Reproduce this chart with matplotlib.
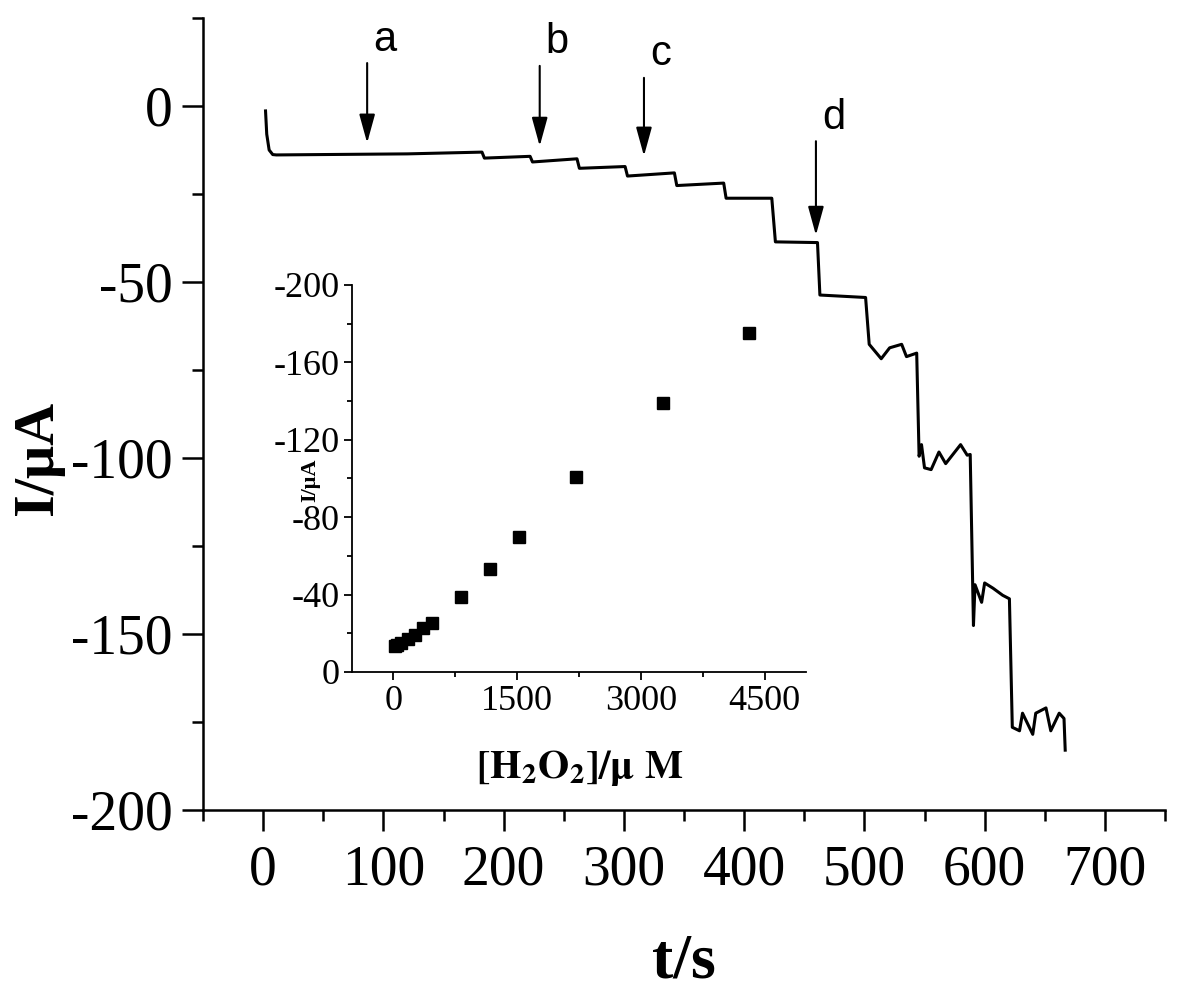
import matplotlib
matplotlib.use("Agg")
import matplotlib.pyplot as plt
from matplotlib.ticker import MultipleLocator, FormatStrFormatter

plt.rcParams['font.family'] = ['Liberation Serif', 'DejaVu Serif']
plt.rcParams['mathtext.fontset'] = 'stix'
plt.rcParams['axes.unicode_minus'] = False

# amperometric trace (time in s, current in uA)
t_s = [2, 3, 5, 8, 11, 120, 182, 184, 222, 224, 261, 263,
       301, 303, 342, 344, 383, 385, 423, 426, 461, 463, 501,
       504, 514, 521, 531, 535, 543.5, 545.5,
       547.5, 550, 555.5, 562, 567.6, 580, 585.5, 588,
       590.7, 592, 597.5, 600, 607, 615, 620.6,
       623, 629, 631.5, 640, 642.5, 651, 655, 662, 666, 667]
i_ua = [-1.4, -8, -12.5, -13.8, -13.9, -13.6, -13.1, -14.8, -14.3, -15.9,
        -15.0, -17.7, -17.2, -19.9, -19.0, -22.6, -21.9, -26.2, -26.2,
        -38.6, -38.8, -53.7, -54.4,
        -67.7, -71.8, -68.7, -67.7, -71.2, -70.2, -99.5,
        -96.2, -102.8, -103.3, -98.3, -101.6, -96.2, -99.2, -99.0,
        -147.6, -136.0, -141.0, -135.5, -137.0, -139.0, -140.0,
        -176.5, -177.5, -172.5, -178.5, -172.5, -171.0, -177.5, -172.5,
        -174.0, -183.0]

# calibration points for the inset
conc_um = [20, 40, 100, 180, 260, 360, 470, 820, 1170, 1520, 2220, 3270, 4310]
cal_ua = [-13.4, -14.0, -14.8, -16.9, -19.1, -22.6, -25.5, -38.9, -53.4,
          -69.9, -100.8, -138.9, -175.0]

# addition markers
mark_labels = ['a', 'b', 'c', 'd']
mark_t = [86.5, 230, 316.7, 459.7]
mark_tip = [-10.5, -11.4, -14.2, -36.7]
mark_tail = [12.2, 11.4, 8.0, -10.0]

fig = plt.figure(figsize=(11.83, 10), dpi=100)
ax = fig.add_axes([0.1716, 0.19, 0.8132, 0.792])
ax.plot(t_s, i_ua, color='black', lw=2.2)
ax.set_xlim(-50, 750)
ax.set_ylim(-200, 25)
ax.spines['top'].set_visible(False)
ax.spines['right'].set_visible(False)
for s in ['left', 'bottom']:
    ax.spines[s].set_linewidth(1.8)
ax.xaxis.set_major_locator(MultipleLocator(100))
ax.xaxis.set_minor_locator(MultipleLocator(50))
ax.yaxis.set_major_locator(MultipleLocator(50))
ax.yaxis.set_minor_locator(MultipleLocator(25))
ax.yaxis.set_major_formatter(FormatStrFormatter('%d'))
ax.tick_params(which='major', direction='out', length=15, width=1.8,
               labelsize=40, pad=7)
ax.tick_params(which='minor', direction='out', length=8, width=1.8)
ax.tick_params(axis='x', which='major', pad=10)

for lab, x, tip, tail in zip(mark_labels, mark_t, mark_tip, mark_tail):
    ax.annotate('', xy=(x, tip), xytext=(x, tail),
                arrowprops=dict(arrowstyle='-|>,head_length=0.8,head_width=0.22',
                                color='black', lw=1.5, mutation_scale=22,
                                shrinkA=0, shrinkB=0))
    ax.text(x + 5, tail + 1, lab, family='Liberation Sans', fontsize=30,
            ha='left', va='bottom')

fig.text(684 / 1183, 1 - 962 / 1000, 't/s', fontsize=46, fontweight='bold',
         ha='center', va='center')
fig.text(38 / 1183, 1 - 458 / 1000, 'I/μA', fontsize=42, fontweight='bold',
         ha='center', va='center', rotation=90)

ins = fig.add_axes([0.2975, 0.328, 0.3838, 0.387])
ins.plot(conc_um, cal_ua, 's', color='black', ms=8)
ins.set_xlim(-500, 5000)
ins.set_ylim(0, -200)
ins.spines['top'].set_visible(False)
ins.spines['right'].set_visible(False)
for s in ['left', 'bottom']:
    ins.spines[s].set_linewidth(1.3)
ins.xaxis.set_major_locator(MultipleLocator(1500))
ins.xaxis.set_minor_locator(MultipleLocator(750))
ins.yaxis.set_major_locator(MultipleLocator(40))
ins.yaxis.set_minor_locator(MultipleLocator(20))
ins.yaxis.set_major_formatter(FormatStrFormatter('%d'))
ins.tick_params(which='major', direction='out', length=6, width=1.3,
                labelsize=26, pad=3)
ins.tick_params(which='minor', direction='out', length=3.5, width=1.3)

fig.text(580 / 1183, 1 - 768 / 1000, r'$\mathbf{[H_2O_2]/\mu\ M}$',
         fontsize=29, ha='center', va='center')
fig.text(310 / 1183, 1 - 480 / 1000, 'I/μA', fontsize=16, fontweight='bold',
         ha='center', va='center', rotation=90)

fig.savefig('out.png', dpi=100)
